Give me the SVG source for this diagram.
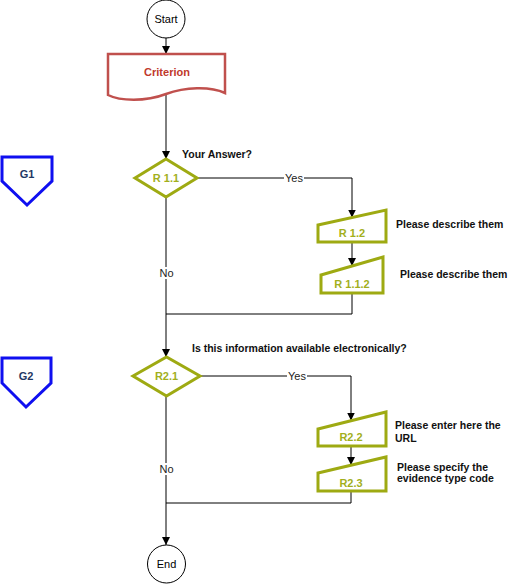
<svg xmlns="http://www.w3.org/2000/svg" width="510" height="584" viewBox="0 0 510 584">
  <defs>
    <marker id="arrow" markerUnits="userSpaceOnUse" markerWidth="8" markerHeight="8" refX="8" refY="4" orient="auto">
      <path d="M0,0 L8,4 L0,8 z" fill="#000"/>
    </marker>
    <style>
      text { font-family: "Liberation Sans", Arial, sans-serif; font-size: 11px; }
      .terminal { fill: #fff; stroke: #000; stroke-width: 1; }
      .plain { fill: #000; text-anchor: middle; }
      .doc { fill: #fff; stroke: #C0504D; stroke-width: 2.5; }
      .doc-text { fill: #C0392B; font-weight: bold; text-anchor: middle; }
      .step { fill: #fff; stroke: #9EAA12; stroke-width: 3; stroke-linejoin: miter; }
      .step-text { fill: #A2AF1C; font-weight: bold; text-anchor: middle; }
      .page { fill: #fff; stroke: #0F0FF0; stroke-width: 3; stroke-linejoin: miter; }
      .page-text { fill: #1F3864; font-weight: bold; text-anchor: middle; }
      .note { fill: #111; font-weight: bold; font-size: 10.5px; }
      .edge { fill: none; stroke: #000; stroke-width: 1; }
      .edge-arrow { marker-end: url(#arrow); }
      .edge-label { fill: #222; text-anchor: middle; }
      .label-bg { fill: #fff; }
    </style>
  </defs>

  <!-- connectors -->
  <g id="connectors">
    <path class="edge edge-arrow" d="M166,38 V54"/>
    <path class="edge edge-arrow" d="M166,94 V159"/>
    <path class="edge edge-arrow" d="M197,178 H352 V217.5"/>
    <path class="edge edge-arrow" d="M352,242 V266"/>
    <path class="edge" d="M352,293 V314 H166"/>
    <path class="edge edge-arrow" d="M166,197 V357"/>
    <path class="edge edge-arrow" d="M200,376 H351 V420.5"/>
    <path class="edge edge-arrow" d="M351,446 V465"/>
    <path class="edge" d="M351,491 V503 H166"/>
    <path class="edge edge-arrow" d="M166,396 V545"/>

    <rect class="label-bg" x="284" y="172" width="20" height="12"/>
    <text class="edge-label" x="294" y="182">Yes</text>
    <rect class="label-bg" x="158" y="267" width="17" height="12"/>
    <text class="edge-label" x="166.5" y="277">No</text>
    <rect class="label-bg" x="287" y="370" width="20" height="12"/>
    <text class="edge-label" x="297" y="380">Yes</text>
    <rect class="label-bg" x="158" y="463" width="17" height="12"/>
    <text class="edge-label" x="166.5" y="473">No</text>
  </g>

  <g id="start">
    <circle class="terminal" cx="166" cy="19" r="19"/>
    <text class="plain" x="166" y="23">Start</text>
  </g>

  <g id="criterion">
    <path class="doc" d="M108,54 H225 V93 C210,86 185,87 166,94 C145,102 120,101 108,95 Z"/>
    <text class="doc-text" x="167" y="76">Criterion</text>
  </g>

  <g id="g1">
    <polygon class="page" points="2,157 52,157 52,181 27,205 2,181"/>
    <text class="page-text" x="27" y="178">G1</text>
  </g>

  <g id="r1-1">
    <polygon class="step" points="135,178 166,159 197,178 166,197"/>
    <text class="step-text" x="166" y="182">R 1.1</text>
    <text class="note" x="182" y="158">Your Answer?</text>
  </g>

  <g id="r1-2">
    <polygon class="step" points="318,225 386,210 386,242 318,242"/>
    <text class="step-text" x="352" y="237">R 1.2</text>
    <text class="note" x="396" y="228">Please describe them</text>
  </g>

  <g id="r1-1-2">
    <polygon class="step" points="321,275 383,257 383,293 321,293"/>
    <text class="step-text" x="352" y="288">R 1.1.2</text>
    <text class="note" x="400" y="278">Please describe them</text>
  </g>

  <g id="g2">
    <polygon class="page" points="2,358 51,358 51,383 26,407 2,383"/>
    <text class="page-text" x="26" y="380">G2</text>
  </g>

  <g id="r2-1">
    <polygon class="step" points="133,376 166.5,357 200,376 166.5,396"/>
    <text class="step-text" x="166.5" y="380">R2.1</text>
    <text class="note" x="192" y="352">Is this information available electronically?</text>
  </g>

  <g id="r2-2">
    <polygon class="step" points="318,429 386,412 386,446 318,446"/>
    <text class="step-text" x="351" y="441">R2.2</text>
    <text class="note" x="395" y="429">Please enter here the</text>
    <text class="note" x="395" y="442">URL</text>
  </g>

  <g id="r2-3">
    <polygon class="step" points="318,473 386,457 386,491 318,491"/>
    <text class="step-text" x="351" y="487">R2.3</text>
    <text class="note" x="397" y="471">Please specify the</text>
    <text class="note" x="397" y="482">evidence type code</text>
  </g>

  <g id="end">
    <circle class="terminal" cx="166.5" cy="564" r="19"/>
    <text class="plain" x="166.5" y="568">End</text>
  </g>
</svg>
